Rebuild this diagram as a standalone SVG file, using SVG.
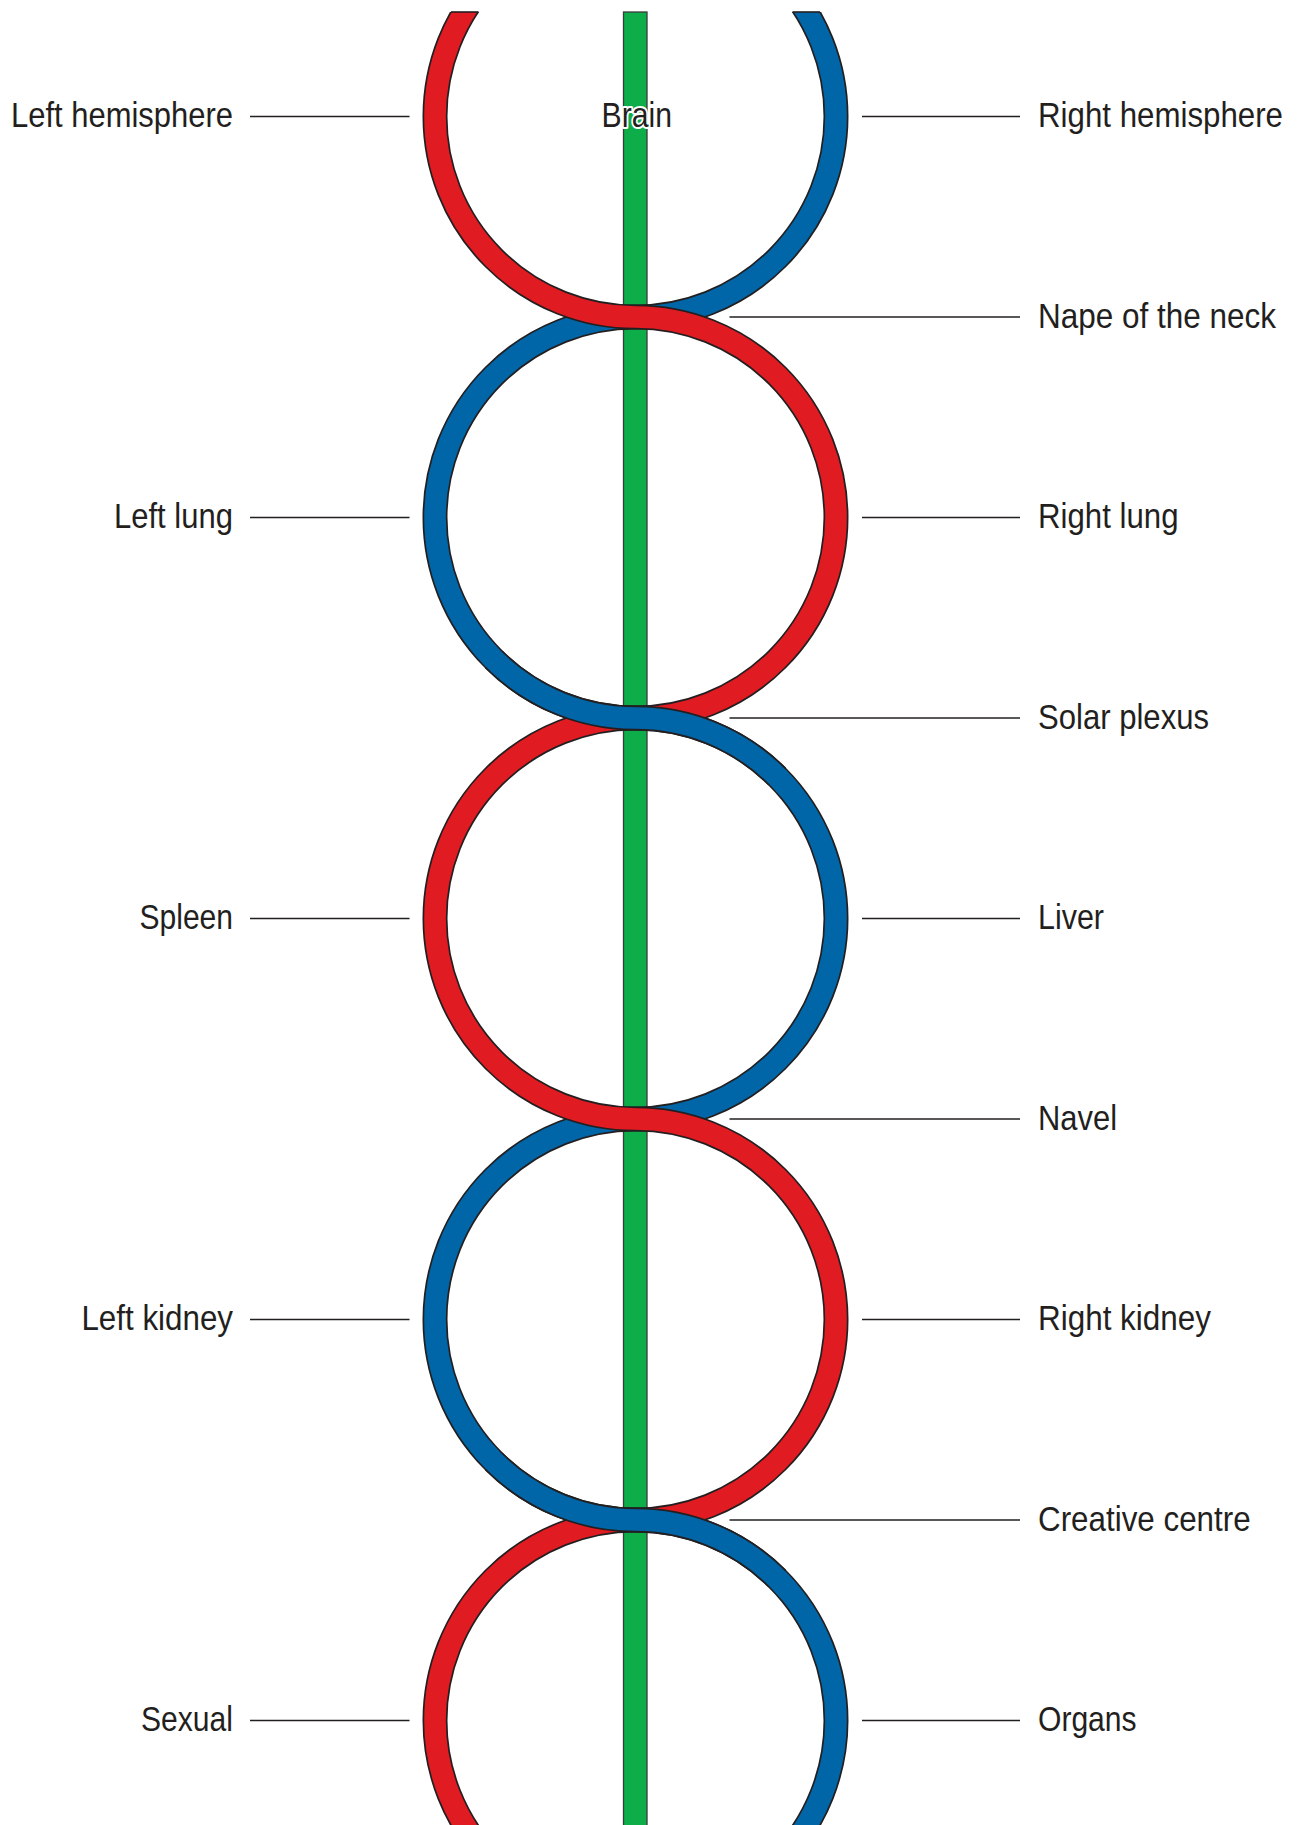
<svg xmlns="http://www.w3.org/2000/svg" width="1303" height="1825" viewBox="0 0 1303 1825">
  <style>
    .lbl { font-family: "Liberation Sans", Arial, sans-serif; font-size: 35px; fill: #231f20; }
    .end { text-anchor: end; }
    .lead { stroke: #231f20; stroke-width: 1.6; fill: none; }
    .edge { stroke: #231f20; stroke-width: 25; fill: none; stroke-linecap: butt; }
    .red { stroke: #e11b22; stroke-width: 21.6; fill: none; stroke-linecap: butt; }
    .blue { stroke: #0066a8; stroke-width: 21.6; fill: none; stroke-linecap: butt; }
  </style>
  <defs>
    <clipPath id="cut">
      <rect x="0" y="12" width="1303" height="1830"/>
    </clipPath>
    <!-- two interlaced serpentine channels, semicircles of radius 200.5 around x=635.5 -->
    <path id="snakeRed" d="M635.5,-84 A200.5,200.5 0 0 0 635.5,317 A200.5,200.5 0 0 1 635.5,718 A200.5,200.5 0 0 0 635.5,1119 A200.5,200.5 0 0 1 635.5,1520 A200.5,200.5 0 0 0 635.5,1921"/>
    <path id="snakeBlue" d="M635.5,-84 A200.5,200.5 0 0 1 635.5,317 A200.5,200.5 0 0 0 635.5,718 A200.5,200.5 0 0 1 635.5,1119 A200.5,200.5 0 0 0 635.5,1520 A200.5,200.5 0 0 1 635.5,1921"/>
  </defs>

  <rect width="1303" height="1825" fill="#ffffff"/>

  <!-- central spine -->
  <g id="spine">
    <rect x="623.5" y="12" width="23.5" height="1820" fill="#0dad4a" stroke="#3b3b3b" stroke-width="1.3"/>
  </g>

  <!-- channels -->
  <g id="channels" clip-path="url(#cut)">
    <use href="#snakeBlue" class="edge"/>
    <use href="#snakeBlue" class="blue"/>
    <use href="#snakeRed" class="edge"/>
    <use href="#snakeRed" class="red"/>
    <!-- blue passes over red at the solar plexus and creative centre crossings -->
    <path class="edge" d="M493.7,659.3 A200.5,200.5 0 0 0 635.5,718 A200.5,200.5 0 0 1 777.3,776.7"/>
    <path class="blue" d="M481.9,646.4 A200.5,200.5 0 0 0 635.5,718 A200.5,200.5 0 0 1 789.1,789.6"/>
    <path class="edge" d="M493.7,1461.3 A200.5,200.5 0 0 0 635.5,1520 A200.5,200.5 0 0 1 777.3,1578.7"/>
    <path class="blue" d="M481.9,1448.4 A200.5,200.5 0 0 0 635.5,1520 A200.5,200.5 0 0 1 789.1,1591.6"/>
  </g>
  <!-- cut ends at the top -->
  <g id="top-ends" class="lead">
    <line x1="450.9" y1="12" x2="478.5" y2="12"/>
    <line x1="792.5" y1="12" x2="820.1" y2="12"/>
  </g>

  <!-- leader lines -->
  <g id="connectors" class="lead">
    <line x1="250" y1="116.5" x2="409.5" y2="116.5"/>
    <line x1="862" y1="116.5" x2="1020" y2="116.5"/>
    <line x1="729.5" y1="317" x2="1020" y2="317"/>
    <line x1="250" y1="517.5" x2="409.5" y2="517.5"/>
    <line x1="862" y1="517.5" x2="1020" y2="517.5"/>
    <line x1="729.5" y1="718" x2="1020" y2="718"/>
    <line x1="250" y1="918.5" x2="409.5" y2="918.5"/>
    <line x1="862" y1="918.5" x2="1020" y2="918.5"/>
    <line x1="729.5" y1="1119" x2="1020" y2="1119"/>
    <line x1="250" y1="1319.5" x2="409.5" y2="1319.5"/>
    <line x1="862" y1="1319.5" x2="1020" y2="1319.5"/>
    <line x1="729.5" y1="1520" x2="1020" y2="1520"/>
    <line x1="250" y1="1720.5" x2="409.5" y2="1720.5"/>
    <line x1="862" y1="1720.5" x2="1020" y2="1720.5"/>
  </g>

  <!-- labels -->
  <g id="brain"><text class="lbl" x="636.8" y="127" text-anchor="middle" textLength="70.5" lengthAdjust="spacingAndGlyphs" stroke="#ffffff" stroke-width="4" stroke-linejoin="round" paint-order="stroke">Brain</text></g>
  <g id="left-hemisphere"><text class="lbl end" x="233" y="127" textLength="222" lengthAdjust="spacingAndGlyphs">Left hemisphere</text></g>
  <g id="right-hemisphere"><text class="lbl" x="1038" y="127" textLength="245" lengthAdjust="spacingAndGlyphs">Right hemisphere</text></g>
  <g id="nape"><text class="lbl" x="1038" y="327.5" textLength="238" lengthAdjust="spacingAndGlyphs">Nape of the neck</text></g>
  <g id="left-lung"><text class="lbl end" x="233" y="528" textLength="119" lengthAdjust="spacingAndGlyphs">Left lung</text></g>
  <g id="right-lung"><text class="lbl" x="1038" y="528" textLength="140.5" lengthAdjust="spacingAndGlyphs">Right lung</text></g>
  <g id="solar-plexus"><text class="lbl" x="1038" y="728.5" textLength="171" lengthAdjust="spacingAndGlyphs">Solar plexus</text></g>
  <g id="spleen"><text class="lbl end" x="233" y="929" textLength="93.5" lengthAdjust="spacingAndGlyphs">Spleen</text></g>
  <g id="liver"><text class="lbl" x="1038" y="929" textLength="66" lengthAdjust="spacingAndGlyphs">Liver</text></g>
  <g id="navel"><text class="lbl" x="1038" y="1129.5" textLength="79" lengthAdjust="spacingAndGlyphs">Navel</text></g>
  <g id="left-kidney"><text class="lbl end" x="233" y="1330" textLength="151.6" lengthAdjust="spacingAndGlyphs">Left kidney</text></g>
  <g id="right-kidney"><text class="lbl" x="1038" y="1330" textLength="173" lengthAdjust="spacingAndGlyphs">Right kidney</text></g>
  <g id="creative-centre"><text class="lbl" x="1038" y="1530.5" textLength="212.6" lengthAdjust="spacingAndGlyphs">Creative centre</text></g>
  <g id="sexual"><text class="lbl end" x="233" y="1731" textLength="92" lengthAdjust="spacingAndGlyphs">Sexual</text></g>
  <g id="organs"><text class="lbl" x="1038" y="1731" textLength="98.6" lengthAdjust="spacingAndGlyphs">Organs</text></g>
</svg>
